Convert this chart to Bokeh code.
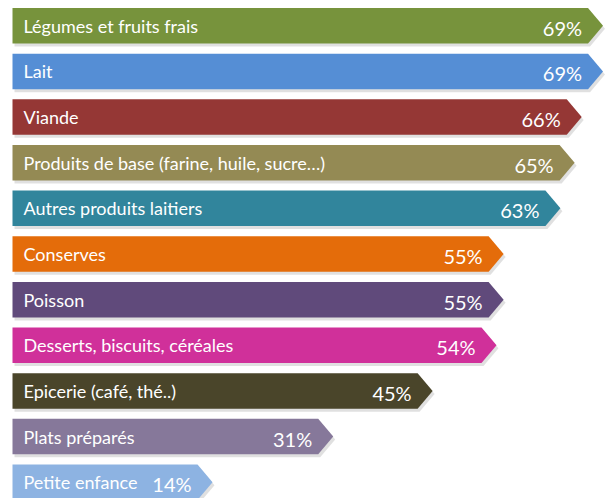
from bokeh.plotting import figure
from bokeh.models import ColumnDataSource, Range1d
from bokeh.core.properties import value
from bokeh.embed import file_html
from bokeh.resources import INLINE

categories = [
    "Légumes et fruits frais",
    "Lait",
    "Viande",
    "Produits de base (farine, huile, sucre…)",
    "Autres produits laitiers",
    "Conserves",
    "Poisson",
    "Desserts, biscuits, céréales",
    "Epicerie (café, thé..)",
    "Plats préparés",
    "Petite enfance",
]
values = [69, 69, 66, 65, 63, 55, 55, 54, 45, 31, 14]
colors = [
    "#77933C", "#558ED5", "#953735", "#948A54", "#31859C", "#E46C0A",
    "#604A7B", "#D0309A", "#4A452A", "#86789A", "#8DB3E2",
]

W, H = 614, 498
X0, X1 = -13.75, 72.73
px_per_unit = W / (X1 - X0)
baseline = -12.06
tip = 15 / px_per_unit

pitch = 45.65
half_h = 17.75 / pitch
y_top = 25.25 / pitch
y_span = H / pitch

rows = [-i for i in range(len(values))]

xs, ys = [], []
sxs, sys_ = [], []
for v, yc in zip(values, rows):
    px = [baseline, v, v + tip, v, baseline]
    py = [yc + half_h, yc + half_h, yc, yc - half_h, yc - half_h]
    xs.append(px)
    ys.append(py)
    dx = 2 / px_per_unit
    dy = 3 / pitch
    sxs.append([a + dx for a in px])
    sys_.append([b - dy for b in py])

p = figure(width=W, height=H, output_backend="svg", toolbar_location=None,
           x_range=Range1d(X0, X1), y_range=Range1d(y_top - y_span, y_top),
           min_border=0)
p.xaxis.visible = False
p.yaxis.visible = False
p.grid.visible = False
p.outline_line_color = None
p.background_fill_color = "white"
p.border_fill_color = "white"

p.patches(sxs, sys_, fill_color="black", fill_alpha=0.12, line_color=None)
src = ColumnDataSource(dict(xs=xs, ys=ys, color=colors))
p.patches("xs", "ys", source=src, fill_color="color", line_color=None)

lab = ColumnDataSource(dict(
    x=[baseline] * len(values), y=rows, text=categories,
    vx=values, vt=[f"{v}%" for v in values],
))
p.text(x="x", y="y", text="text", source=lab, x_offset=11, y_offset=0,
       text_font=value("Lato"), text_font_size="18px", text_color="white",
       text_baseline="middle", text_align="left")
p.text(x="vx", y="y", text="vt", source=lab, x_offset=-6, y_offset=2,
       text_font=value("Lato"), text_font_size="20px", text_color="white",
       text_baseline="middle", text_align="right")

open("out.html", "w").write(file_html(p, INLINE))
